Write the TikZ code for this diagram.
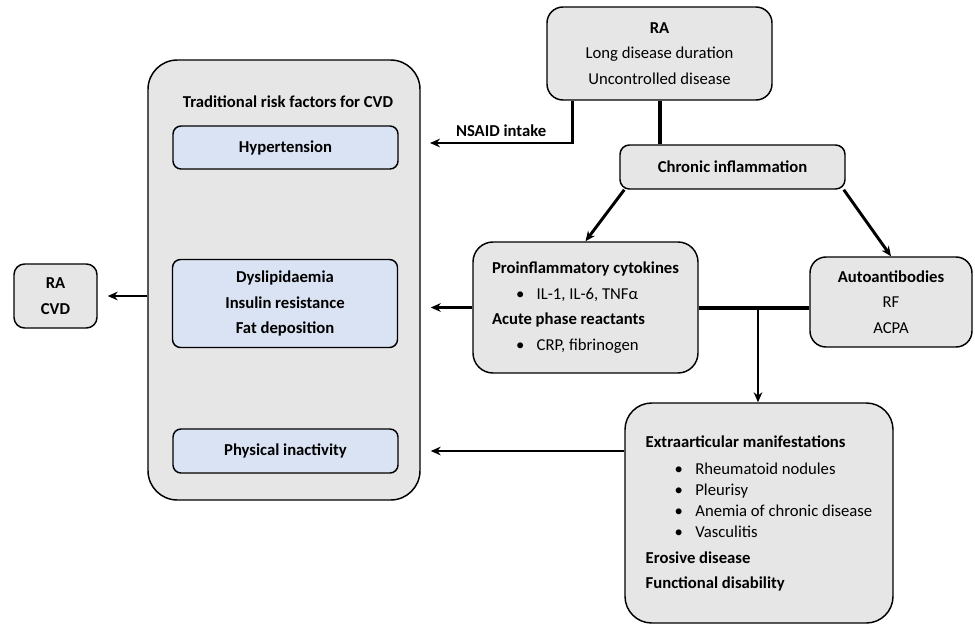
\documentclass[tikz,border=0pt]{standalone}
\usepackage{fontspec}
\setmainfont{Carlito}
\usetikzlibrary{arrows.meta}
\definecolor{boxgray}{HTML}{E7E6E6}
\definecolor{boxblue}{HTML}{DAE3F3}
\newcommand{\bulletline}[2][18pt]{\hspace*{#1}\makebox[15.5pt][l]{\textbullet}#2}

\begin{document}
\begin{tikzpicture}[x=0.75pt, y=-0.75pt, >={Stealth[length=7.5pt,width=6.5pt]},
    box/.style={draw, line width=1.1pt, fill=boxgray, rounded corners=#1, align=center,
      font=\fontsize{12.5}{19.2}\selectfont, inner sep=0pt},
    box/.default=11pt,
    riskbox/.style={draw, line width=1.1pt, fill=boxblue, rounded corners=6pt, minimum width=168.75pt,
      align=center, font=\bfseries\fontsize{12.5}{19.2}\selectfont, inner sep=0pt},
    link/.style={line width=2.2pt},
    bar/.style={line width=3pt}]
    \useasboundingbox (0,0) rectangle (975,625);

    % Left column: CVD risk factors
    \node[box=22pt, minimum width=204pt, minimum height=330pt] (trad) at (284,280) {};
    \node[font=\bfseries\fontsize{12.5}{14}\selectfont] (tradtitle) at (288,102) {Traditional risk factors for CVD};
    \node[riskbox, minimum height=32.25pt] (hyper) at (285.5,147.5) {Hypertension};
    \node[riskbox, minimum height=66pt] (dys) at (285,303.5) {Dyslipidaemia\\Insulin resistance\\Fat deposition};
    \node[riskbox, minimum height=33pt] (phys) at (285.5,451) {Physical inactivity};
    \node[box=8pt, minimum width=62.25pt, minimum height=48pt, font=\bfseries\fontsize{12.5}{19}\selectfont] (racvd) at (55.5,296) {RA\\CVD};

    % Right side: RA and its consequences
    \node[box=12pt, minimum width=168.75pt, minimum height=69.75pt] (ra) at (659.5,53.5)
      {\textbf{RA}\\Long disease duration\\Uncontrolled disease};
    \node[box=7pt, minimum width=168.75pt, minimum height=33pt, font=\bfseries\fontsize{12.5}{14}\selectfont] (chronic) at (732.5,167)
      {Chronic inflammation};
    \node[box=15pt, minimum width=168.75pt, minimum height=98.25pt, align=left] (proinf) at (585.5,307.5)
      {\textbf{Proinflammatory cytokines}\\\bulletline{IL-1, IL-6, TNFα}\\\textbf{Acute phase reactants}\\\bulletline{CRP, fibrinogen}};
    \node[box=12pt, minimum width=121.5pt, minimum height=67.5pt] (auto) at (891,302)
      {\textbf{Autoantibodies}\\RF\\ACPA};
    \node[box=20pt, minimum width=201pt, minimum height=165pt, align=left, font=\fontsize{12.5}{15.75}\selectfont] (extra) at (759,513)
      {\textbf{Extraarticular manifestations}\\[4.5pt]
       \bulletline[21.75pt]{Rheumatoid nodules}\\
       \bulletline[21.75pt]{Pleurisy}\\
       \bulletline[21.75pt]{Anemia of chronic disease}\\
       \bulletline[21.75pt]{Vasculitis}\\[3.75pt]
       \textbf{Erosive disease}\\[3pt]
       \textbf{Functional disability}};

    % Connectors
    \coordinate (nsaid) at (430,143);
    \coordinate (split) at (758,307.5);
    \draw[->, link] ([xshift=19.5pt]ra.south west) |- (nsaid)
      node[pos=0.75, above, font=\bfseries\fontsize{12.5}{14}\selectfont] {NSAID intake};
    \draw[bar] (ra.south) -- (ra.south |- chronic.north);
    \draw[->, link] ([xshift=3.75pt]chronic.south west) -- (proinf.north);
    \draw[->, link] ([xshift=-1.5pt]chronic.south east) -- (auto.north);
    \draw[->, link, shorten >=7.5pt] (proinf.west) -- (proinf.west -| trad.east);
    \draw[bar] (proinf.east) -- (proinf.east -| auto.west);
    \draw[->, line width=1.5pt] (split) -- (split |- extra.north);
    \draw[->, link, shorten >=7.5pt] (extra.west |- phys.east) -- (phys.east -| trad.east);
    \draw[->, link, shorten >=7.5pt] (trad.west |- racvd.east) -- (racvd.east);
  \end{tikzpicture}
\end{document}
